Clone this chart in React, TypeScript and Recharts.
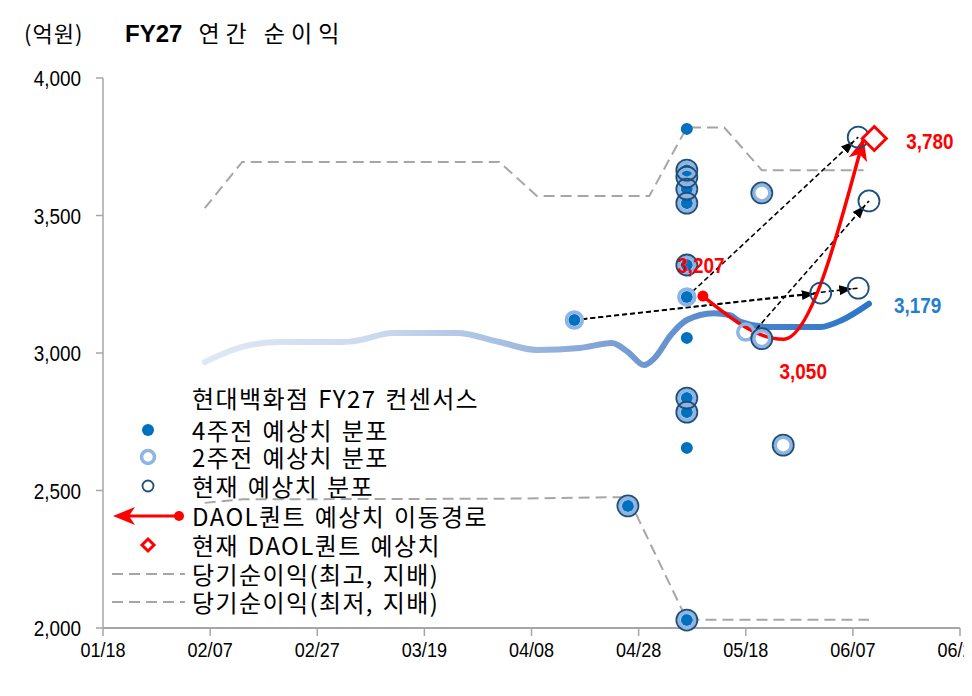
import React from 'react'
import { ComposedChart, Line, Scatter, XAxis, YAxis } from 'recharts'

const YEAR = 2025
const START = Date.UTC(YEAR, 0, 18)
const toDay = (md: string) => {
  const [m, d] = md.split('/').map(Number)
  return Math.round((Date.UTC(YEAR, m - 1, d) - START) / 86400000)
}
const fmt = (v: number) => v.toLocaleString('en-US')

// axes
const xTickLabels = ['01/18', '02/07', '02/27', '03/19', '04/08', '04/28', '05/18', '06/07', '06/27']
const yTicks = [2000, 2500, 3000, 3500, 4000]

// 현대백화점 FY27 컨센서스
const consensusDates = ['02/06', '02/13', '02/20', '03/04', '03/07', '03/13', '03/25', '04/02', '04/09', '04/17', '04/23', '04/26', '04/29', '05/01', '05/04', '05/07', '05/12', '05/15', '05/17', '05/22', '06/01', '06/05', '06/10']
const consensusValues = [2967, 3022, 3040, 3040, 3047, 3073, 3073, 3040, 3011, 3018, 3036, 3004, 2956, 2982, 3065, 3120, 3145, 3138, 3113, 3095, 3095, 3120, 3179]

// 당기순이익 최고 / 최저
const highDates = ['02/06', '02/13', '04/02', '04/09', '04/30', '05/07', '05/14', '05/21', '06/09']
const highValues = [3527, 3695, 3695, 3571, 3571, 3820, 3820, 3665, 3665]
const lowDates = ['02/06', '02/13', '04/02', '04/26', '05/07', '06/10']
const lowValues = [2455, 2468, 2470, 2476, 2030, 2030]

// 예상치 분포
const week4Dates = ['04/16', '04/26', '05/07', '05/07', '05/07', '05/07', '05/07', '05/07', '05/07', '05/07', '05/07', '05/07', '05/07', '05/07']
const week4Values = [3120, 2444, 3815, 3665, 3640, 3596, 3545, 3320, 3204, 3055, 2836, 2785, 2655, 2029]
const week2Dates = ['04/16', '04/26', '05/07', '05/07', '05/07', '05/07', '05/07', '05/07', '05/07', '05/07', '05/07', '05/18', '05/21', '05/21', '05/25']
const week2Values = [3120, 2444, 3665, 3640, 3596, 3545, 3320, 3204, 2836, 2785, 2029, 3076, 3052, 3582, 2665]
const nowDates = ['04/26', '05/07', '05/07', '05/07', '05/07', '05/07', '05/07', '05/07', '05/07', '05/21', '05/21', '05/25', '06/01', '06/08', '06/10', '06/08']
const nowValues = [2444, 3665, 3640, 3596, 3545, 3320, 2836, 2785, 2029, 3052, 3582, 2665, 3218, 3236, 3553, 3785]

// DAOL퀀트
const daolPathDates = ['05/10', '05/25', '06/09']
const daolPathValues = [3207, 3050, 3780]
const daolNowDates = ['06/11']
const daolNowValues = [3780]

// 예상치 변경 화살표
const arrowStartDates = ['04/16', '04/16', '05/07', '05/19']
const arrowStartValues = [3120, 3120, 3204, 3065]
const arrowEndDates = ['06/01', '06/08', '06/08', '06/10']
const arrowEndValues = [3218, 3236, 3785, 3553]

const legendNames = [
  '현대백화점 FY27 컨센서스',
  '4주전 예상치 분포',
  '2주전 예상치 분포',
  '현재 예상치 분포',
  'DAOL퀀트 예상치 이동경로',
  '현재 DAOL퀀트 예상치',
  '당기순이익(최고, 지배)',
  '당기순이익(최저, 지배)',
]

const pts = (dates: string[], values: number[]) => dates.map((md, i) => ({ d: toDay(md), v: values[i] }))

const consensus = pts(consensusDates, consensusValues)
const high = pts(highDates, highValues)
const low = pts(lowDates, lowValues)
const week4 = pts(week4Dates, week4Values)
const week2 = pts(week2Dates, week2Values)
const now = pts(nowDates, nowValues)
const daolPath = pts(daolPathDates, daolPathValues)
const daolNow = pts(daolNowDates, daolNowValues)
const arrows = arrowStartDates.map((s, i) => [
  { d: toDay(s), v: arrowStartValues[i] },
  { d: toDay(arrowEndDates[i]), v: arrowEndValues[i] },
])
const xTicks = xTickLabels.map(toDay)

const FONT_KR = "'Noto Sans CJK KR', 'Noto Sans', sans-serif"
const FONT_NUM = "'Liberation Sans', Arial, sans-serif"
const RED = '#FF0000'
const BLUE = '#0070C0'
const LIGHT = '#8DB4E2'
const NAVY = '#1F4E79'
const GRAY = '#A6A6A6'

// condensed number text (the source uses a narrow face)
function NarrowText({ x, y, anchor = 'start', size = 22, bold = false, fill = '#000', dy, children }: any) {
  return (
    <text
      transform={`translate(${x},${y}) scale(0.86,1)`}
      textAnchor={anchor}
      dominantBaseline={dy ? undefined : 'central'}
      dy={dy}
      fontFamily={FONT_NUM}
      fontSize={size}
      fontWeight={bold ? 700 : 400}
      fill={fill}
    >
      {children}
    </text>
  )
}

const YTick = (p: any) => <NarrowText x={p.x} y={p.y} anchor="end" size={22}>{fmt(p.payload.value)}</NarrowText>
const XTick = (p: any) => (
  <NarrowText x={p.x} y={p.y} anchor="middle" size={21} dy="0.71em">
    {xTickLabels[xTicks.indexOf(p.payload.value)] ?? ''}
  </NarrowText>
)

const Week4Shape = (p: any) => <circle cx={p.cx} cy={p.cy} r={6} fill={BLUE} />
const Week2Shape = (p: any) => <circle cx={p.cx} cy={p.cy} r={8} fill="none" stroke={LIGHT} strokeWidth={3.5} />
const NowShape = (p: any) => <circle cx={p.cx} cy={p.cy} r={10.5} fill="none" stroke={NAVY} strokeWidth={1.8} />
const DiamondShape = (p: any) => {
  const { cx, cy } = p
  const s = 12
  return (
    <g>
      <path d={`M${cx},${cy - s}L${cx + s},${cy}L${cx},${cy + s}L${cx - s},${cy}Z`} fill="#fff" stroke={RED} strokeWidth={3} />
      <NarrowText x={cx + 32} y={cy + 2} bold fill={RED}>{fmt(p.payload.v)}</NarrowText>
    </g>
  )
}

const renderDaolDot = (p: any) => {
  const { cx, cy, index } = p
  const label = fmt(p.payload.v)
  if (index === 0)
    return (
      <g key="daol-0">
        <circle cx={cx} cy={cy} r={5.5} fill={RED} />
        <NarrowText x={cx - 2} y={cy - 31} anchor="middle" bold fill={RED}>{label}</NarrowText>
      </g>
    )
  if (index === 1)
    return (
      <g key="daol-1">
        <NarrowText x={cx + 20} y={cy + 32} anchor="middle" bold fill={RED}>{label}</NarrowText>
      </g>
    )
  return <g key={`daol-${index}`} />
}

const renderConsensusLabel = (p: any) => {
  if (p.index !== consensus.length - 1) return null
  return (
    <g key="cons-label">
      <NarrowText x={p.x + 25} y={p.y + 1} bold fill="#1F7FD1">{fmt(consensus[consensus.length - 1].v)}</NarrowText>
    </g>
  )
}

function LegendSymbol({ i, cy }: { i: number; cy: number }) {
  switch (i) {
    case 0:
      return <line x1={112} x2={185} y1={cy} y2={cy} stroke="url(#legendGrad)" strokeWidth={6} strokeLinecap="round" />
    case 1:
      return <circle cx={148} cy={cy} r={6} fill={BLUE} />
    case 2:
      return <circle cx={148} cy={cy} r={6.5} fill="none" stroke={LIGHT} strokeWidth={3.5} />
    case 3:
      return <circle cx={148} cy={cy} r={5.5} fill="none" stroke={NAVY} strokeWidth={1.8} />
    case 4:
      return (
        <g>
          <line x1={125} x2={178} y1={cy} y2={cy} stroke={RED} strokeWidth={3} />
          <circle cx={179} cy={cy} r={5} fill={RED} />
          <path d={`M${113},${cy}L${135},${cy - 9}L${129},${cy}L${135},${cy + 9}Z`} fill={RED} />
        </g>
      )
    case 5:
      return <path d={`M148,${cy - 6}L154,${cy}L148,${cy + 6}L142,${cy}Z`} fill="#fff" stroke={RED} strokeWidth={3} />
    default:
      return <line x1={112} x2={185} y1={cy} y2={cy} stroke={GRAY} strokeWidth={2} strokeDasharray="11 6" />
  }
}

function ChartLegend() {
  const centers = [398, 430, 457, 486, 516, 545, 574, 602]
  return (
    <div style={{ position: 'absolute', left: 0, top: 0, width: 972, height: 696, pointerEvents: 'none' }}>
      <svg width={200} height={696} style={{ position: 'absolute', left: 0, top: 0 }}>
        {legendNames.map((_, i) => (
          <LegendSymbol key={i} i={i} cy={centers[i]} />
        ))}
      </svg>
      {legendNames.map((name, i) => (
        <div
          key={name}
          style={{
            position: 'absolute',
            left: 192,
            top: centers[i] - 13,
            height: 26,
            lineHeight: '26px',
            fontFamily: FONT_KR,
            fontSize: 24,
            color: '#000',
            whiteSpace: 'nowrap',
            letterSpacing: 1.4,
            wordSpacing: 2,
          }}
        >
          {name}
        </div>
      ))}
    </div>
  )
}

export default function App() {
  return (
    <div style={{ position: 'relative', width: 972, height: 696, margin: -8, background: '#fff', overflow: 'hidden' }}>
      <svg width={0} height={0} style={{ position: 'absolute' }}>
        <defs>
          <linearGradient id="consGrad" x1="0" y1="0" x2="1" y2="0">
            <stop offset="0%" stopColor="#DFE8F4" />
            <stop offset="25%" stopColor="#CCDAEE" />
            <stop offset="45%" stopColor="#A6BFE2" />
            <stop offset="65%" stopColor="#7299D2" />
            <stop offset="80%" stopColor="#4D86CC" />
            <stop offset="100%" stopColor="#2C76C7" />
          </linearGradient>
          <linearGradient id="legendGrad" x1="0" y1="0" x2="1" y2="0">
            <stop offset="0%" stopColor="#E6EDF6" />
            <stop offset="100%" stopColor="#2C76C7" />
          </linearGradient>
          <marker id="blackArrow" viewBox="0 -6 14 12" refX={19} refY={0} markerWidth={14} markerHeight={12} markerUnits="userSpaceOnUse" orient="auto">
            <path d="M0,-5L13,0L0,5Z" fill="#000" />
          </marker>
          <marker id="redArrow" viewBox="0 -11 24 22" refX={22} refY={0} markerWidth={24} markerHeight={22} markerUnits="userSpaceOnUse" orient="auto">
            <path d="M0,-9.5L22,0L0,9.5L6,0Z" fill={RED} />
          </marker>
        </defs>
      </svg>

      <div style={{ position: 'absolute', left: 0, top: 0, width: 972, height: 2, background: '#B8B8B8' }} />
      <div style={{ position: 'absolute', left: 0, top: 2, width: 972, height: 2, background: '#1E1E1E' }} />
      <div style={{ position: 'absolute', left: 0, top: 688, width: 972, height: 8, background: '#DCDCDC' }} />

      <div style={{ position: 'absolute', left: 24, top: 17, fontFamily: FONT_KR, fontSize: 22, lineHeight: '30px', color: '#000', letterSpacing: 1 }}>
        (억원)
      </div>
      <div style={{ position: 'absolute', left: 125, top: 16, fontSize: 24, lineHeight: '32px', color: '#000', whiteSpace: 'nowrap' }}>
        <span style={{ fontFamily: FONT_NUM, fontWeight: 700 }}>FY27</span>
        <span style={{ fontFamily: FONT_KR, marginLeft: 16, letterSpacing: 6, fontSize: 23 }}>연간 순이익</span>
      </div>

      <div style={{ position: 'absolute', left: 0, top: 0 }}>
        <ComposedChart width={972} height={696} margin={{ top: 78, right: 12, bottom: 38, left: 0 }}>
          <XAxis
            type="number"
            dataKey="d"
            domain={[0, 160]}
            ticks={xTicks}
            interval={0}
            height={30}
            tickSize={8}
            tickMargin={6}
            axisLine={{ stroke: GRAY, strokeWidth: 2 }}
            tickLine={{ stroke: GRAY, strokeWidth: 1.5 }}
            tick={XTick}
          />
          <YAxis
            type="number"
            dataKey="v"
            domain={[2000, 4000]}
            ticks={yTicks}
            interval={0}
            width={103}
            tickSize={7}
            tickMargin={15}
            axisLine={{ stroke: GRAY, strokeWidth: 1.5 }}
            tickLine={{ stroke: GRAY, strokeWidth: 1.5 }}
            tick={YTick}
          />
          <Line data={high} dataKey="v" type="linear" stroke={GRAY} strokeWidth={2} strokeDasharray="11 6" dot={false} activeDot={false} isAnimationActive={false} />
          <Line data={low} dataKey="v" type="linear" stroke={GRAY} strokeWidth={2} strokeDasharray="11 6" dot={false} activeDot={false} isAnimationActive={false} />
          <Line
            data={consensus}
            dataKey="v"
            type="monotone"
            stroke="url(#consGrad)"
            strokeWidth={6}
            strokeLinecap="round"
            dot={false}
            activeDot={false}
            label={renderConsensusLabel}
            isAnimationActive={false}
          />
          <Scatter data={week4} dataKey="v" shape={Week4Shape} isAnimationActive={false} />
          <Scatter data={week2} dataKey="v" shape={Week2Shape} isAnimationActive={false} />
          <Scatter data={now} dataKey="v" shape={NowShape} isAnimationActive={false} />
          {arrows.map((a, i) => (
            <Line
              key={`arrow-${i}`}
              data={a}
              dataKey="v"
              type="linear"
              stroke="#000"
              strokeWidth={1.6}
              strokeDasharray="5 3"
              markerEnd="url(#blackArrow)"
              dot={false}
              activeDot={false}
              isAnimationActive={false}
            />
          ))}
          <Line
            data={daolPath}
            dataKey="v"
            type="monotoneX"
            stroke={RED}
            strokeWidth={3.5}
            markerEnd="url(#redArrow)"
            dot={renderDaolDot}
            activeDot={false}
            isAnimationActive={false}
          />
          <Scatter data={daolNow} dataKey="v" shape={DiamondShape} isAnimationActive={false} />
        </ComposedChart>
      </div>

      <ChartLegend />
    </div>
  )
}
